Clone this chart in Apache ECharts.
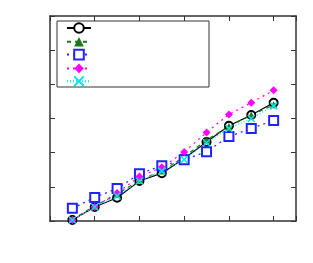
<!DOCTYPE html>
<html><head><meta charset="utf-8">
<script src="https://cdn.jsdelivr.net/npm/echarts@6/dist/echarts.min.js"></script>
<style>html,body{margin:0;padding:0;background:#fff}#c{width:313px;height:263px}</style>
</head><body><div id="c"></div>
<script>
const xValues = [1, 2, 3, 4, 5, 6, 7, 8, 9, 10];
const seriesCircle = [0.03, 0.41, 0.68, 1.17, 1.40, 1.83, 2.31, 2.79, 3.10, 3.46];
const seriesTriangle = [0.05, 0.44, 0.78, 1.20, 1.46, 1.88, 2.37, 2.77, 3.10, 3.40];
const seriesSquare = [0.37, 0.69, 0.95, 1.38, 1.62, 1.79, 2.03, 2.47, 2.71, 2.94];
const seriesDiamond = [0.03, 0.41, 0.82, 1.30, 1.57, 2.02, 2.59, 3.12, 3.46, 3.83];
const seriesCross = [0.03, 0.41, 0.73, 1.17, 1.46, 1.80, 2.29, 2.71, 3.00, 3.37];

const pair = arr => xValues.map((x, i) => [x, arr[i]]);
const axisCommon = {
  axisLine: {show: true, onZero: false, lineStyle: {color: '#333', width: 1.5}},
  axisTick: {show: true, inside: true, length: 5, lineStyle: {color: '#333', width: 1}},
  axisLabel: {show: false},
  splitLine: {show: false}
};
const xAx = pos => Object.assign({type: 'value', position: pos, min: 0, max: 11, interval: 2}, axisCommon);
const yAx = pos => Object.assign({type: 'value', position: pos, min: 0, max: 6, interval: 1}, axisCommon);
const crossPath = 'path://M0,0L10,10M10,0L0,10';

const chart = echarts.init(document.getElementById('c'), null, {renderer: 'canvas'});
chart.setOption({
  animation: false,
  grid: {left: 50, right: 17, top: 16, bottom: 42},
  xAxis: [xAx('bottom'), xAx('top')],
  yAxis: [yAx('left'), yAx('right')],
  legend: {
    orient: 'vertical', left: 57, top: 21,
    padding: [1, 117, 0, 9],
    itemWidth: 24, itemHeight: 12, itemGap: 2,
    borderColor: '#333', borderWidth: 1,
    formatter: () => '',
    data: ['s1', 's2', 's3', 's4', 's5']
  },
  series: [
    {name: 's1', type: 'line', data: pair(seriesCircle), symbol: 'emptyCircle', symbolSize: 8,
     lineStyle: {color: '#000', width: 1.2, type: 'solid'},
     itemStyle: {color: '#000', borderColor: '#000', borderWidth: 1.2}},
    {name: 's2', type: 'line', data: pair(seriesTriangle), symbol: 'triangle', symbolSize: 7,
     lineStyle: {color: '#1a7a1a', width: 1.2, type: [4, 4]},
     itemStyle: {color: '#1a7a1a'}},
    {name: 's3', type: 'line', data: pair(seriesSquare), symbol: 'emptyRect', symbolSize: 9,
     lineStyle: {color: '#2222ff', width: 1.2, type: [2, 4]},
     itemStyle: {color: '#2222ff', borderColor: '#2222ff', borderWidth: 1.2}},
    {name: 's4', type: 'line', data: pair(seriesDiamond), symbol: 'diamond', symbolSize: 8,
     lineStyle: {color: '#ff00ff', width: 1.2, type: [2, 4]},
     itemStyle: {color: '#ff00ff'}},
    {name: 's5', type: 'line', data: pair(seriesCross), symbol: crossPath, symbolSize: 7,
     lineStyle: {color: '#00e5e5', width: 1.2, type: [1, 2]},
     itemStyle: {color: '#00e5e5', borderColor: '#00e5e5', borderWidth: 1.5}}
  ]
});
</script></body></html>
